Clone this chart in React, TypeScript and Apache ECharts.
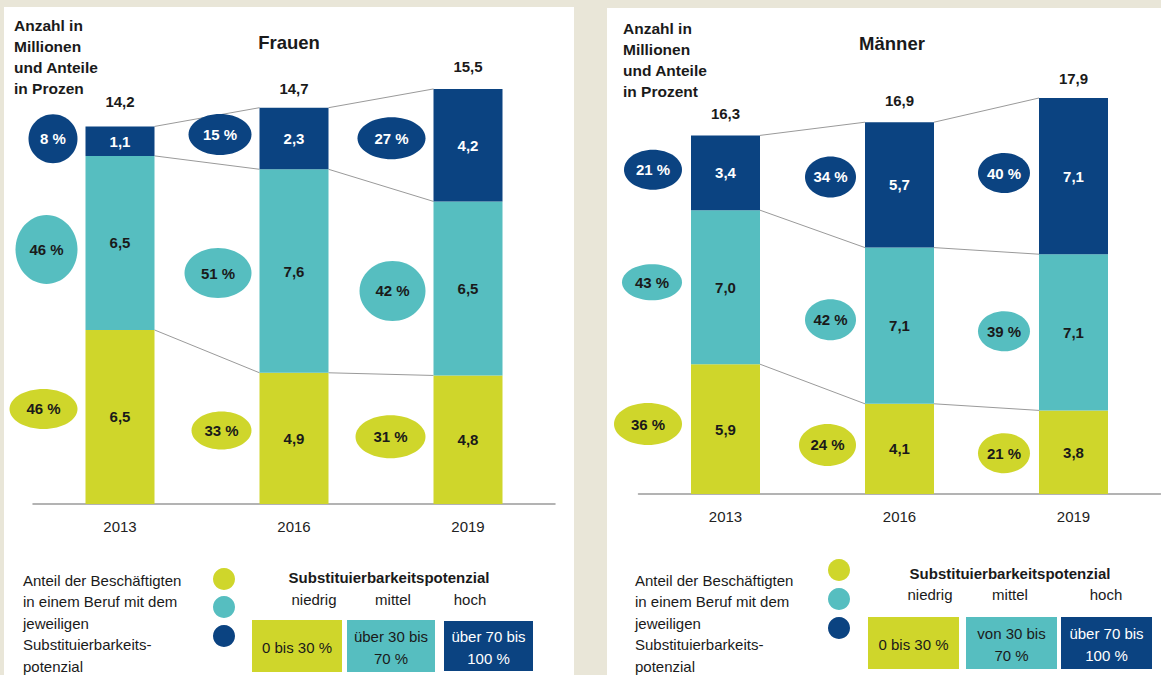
import React, { useEffect, useRef } from "react";
import * as echarts from "echarts";

// ---------- data ----------
const years = ["2013", "2016", "2019"];

const frauenNiedrig = [6.5, 4.9, 4.8];
const frauenMittel = [6.5, 7.6, 6.5];
const frauenHoch = [1.1, 2.3, 4.2];
const frauenGesamt = [14.2, 14.7, 15.5];
const frauenAnteilNiedrig = [46, 33, 31];
const frauenAnteilMittel = [46, 51, 42];
const frauenAnteilHoch = [8, 15, 27];

const maennerNiedrig = [5.9, 4.1, 3.8];
const maennerMittel = [7.0, 7.1, 7.1];
const maennerHoch = [3.4, 5.7, 7.1];
const maennerGesamt = [16.3, 16.9, 17.9];
const maennerAnteilNiedrig = [36, 24, 21];
const maennerAnteilMittel = [43, 42, 39];
const maennerAnteilHoch = [21, 34, 40];

const headerLinesFrauen = ["Anzahl in", "Millionen", "und Anteile", "in Prozen"];
const headerLinesMaenner = ["Anzahl in", "Millionen", "und Anteile", "in Prozent"];
const legendTextLines = [
  "Anteil der Beschäftigten",
  "in einem Beruf mit dem",
  "jeweiligen",
  "Substituierbarkeits-",
  "potenzial",
];
const legendTitle = "Substituierbarkeitspotenzial";
const levelNames = ["niedrig", "mittel", "hoch"];
const rangeLinesFrauen = [["0 bis 30 %"], ["über 30 bis", "70 %"], ["über 70 bis", "100 %"]];
const rangeLinesMaenner = [["0 bis 30 %"], ["von 30 bis", "70 %"], ["über 70 bis", "100 %"]];

// ---------- styles ----------
const LIME = "#cfd62b";
const TEAL = "#56bec0";
const NAVY = "#0b4381";
const BEIGE = "#e9e6d8";
const DARK = "#1a1a1a";
const COLORS = [LIME, TEAL, NAVY];
const BAR_W = 69;

// ellipse styles per [year][level] = [rx, ry, dy]
const ELL_F = [
  [[34, 20, -8], [31, 34.5, 6.5], [24.5, 24.5, -2.5]],
  [[30, 19, -8], [33.5, 25, 2], [31.5, 20.5, -4]],
  [[35, 21.5, -3], [33, 30, 2.5], [34, 21, -7]],
];
const ELL_M = [
  [[34, 21, -5], [30, 18, -5], [29, 20, -3]],
  [[28.5, 21, -4], [25.5, 20.5, -6], [25.5, 20.5, -8]],
  [[26, 20, 1], [26, 20, -1], [26, 20, -3]],
];

function detectNarrow(): boolean {
  try {
    const c = document.createElement("canvas").getContext("2d");
    if (!c) return false;
    const s = "Substituierbarkeitspotenzial";
    c.font = "bold 40px monospace";
    const w1 = c.measureText(s).width;
    c.font = "bold 40px 'Liberation Sans Narrow', monospace";
    const w2 = c.measureText(s).width;
    return Math.abs(w1 - w2) > 1;
  } catch (e) {
    return false;
  }
}

const fmt = (v: number) => v.toFixed(1).replace(".", ",");

export default function App() {
  const ref = useRef<HTMLDivElement>(null);

  useEffect(() => {
    document.body.style.margin = "0";
    if (!ref.current) return;
    const narrow = detectNarrow();
    const FF = narrow
      ? "'Liberation Sans Narrow', 'Liberation Sans', Arial, sans-serif"
      : "'Liberation Sans', Arial, sans-serif";
    const TF = "'Liberation Sans', Arial, sans-serif";
    const fs = (px: number) => (narrow ? Math.round((px / 0.82) * 10) / 10 : px);

    const chart = echarts.init(ref.current, undefined, { renderer: "svg" });

    const panels = [
      {
        levels: [frauenNiedrig, frauenMittel, frauenHoch],
        gesamt: frauenGesamt,
        anteile: [frauenAnteilNiedrig, frauenAnteilMittel, frauenAnteilHoch],
        ell: ELL_F,
        gap: 8,
      },
      {
        levels: [maennerNiedrig, maennerMittel, maennerHoch],
        gesamt: maennerGesamt,
        anteile: [maennerAnteilNiedrig, maennerAnteilMittel, maennerAnteilHoch],
        ell: ELL_M,
        gap: 9,
      },
    ];

    const series: any[] = [];
    panels.forEach((p, g) => {
      p.levels.forEach((arr, k) => {
        series.push({
          type: "bar",
          xAxisIndex: g,
          yAxisIndex: g,
          stack: "s" + g,
          barWidth: BAR_W,
          data: arr,
          silent: true,
          itemStyle: { color: COLORS[k] },
          label: {
            show: true,
            position: "inside",
            formatter: (pp: any) => fmt(pp.value),
            color: k === 2 ? "#ffffff" : DARK,
            fontFamily: FF,
            fontWeight: "bold",
            fontSize: fs(15),
          },
        });
      });
      // totals
      series.push({
        type: "custom",
        xAxisIndex: g,
        yAxisIndex: g,
        silent: true,
        z: 5,
        data: p.gesamt.map((v, i) => [i, v]),
        encode: { x: 0, y: 1 },
        renderItem: (params: any, api: any) => {
          const i = params.dataIndex;
          const pt = api.coord([i, p.gesamt[i]]);
          return {
            type: "text",
            style: {
              text: fmt(p.gesamt[i]),
              x: pt[0],
              y: pt[1] - 22,
              fill: DARK,
              fontFamily: FF,
              fontWeight: "bold",
              fontSize: fs(15),
              align: "center",
              verticalAlign: "middle",
              textAlign: "center",
              textVerticalAlign: "middle",
            },
          };
        },
      });
      // connectors
      series.push({
        type: "custom",
        xAxisIndex: g,
        yAxisIndex: g,
        silent: true,
        z: 1,
        data: [
          [0, 0],
          [1, 0],
        ],
        encode: { x: 0, y: 1 },
        renderItem: (params: any, api: any) => {
          const i = params.dataIndex;
          const half = BAR_W / 2;
          const children: any[] = [];
          let c0 = 0;
          let c1 = 0;
          for (let k = 0; k < 3; k++) {
            c0 += p.levels[k][i];
            c1 += p.levels[k][i + 1];
            const a = api.coord([i, c0]);
            const b = api.coord([i + 1, c1]);
            children.push({
              type: "line",
              shape: { x1: a[0] + half, y1: a[1], x2: b[0] - half, y2: b[1] },
              style: { stroke: "#9a9a9a", lineWidth: 1 },
            });
          }
          return { type: "group", children };
        },
      });
      // ellipses with shares
      const ellData: number[][] = [];
      for (let i = 0; i < 3; i++) {
        let below = 0;
        for (let k = 0; k < 3; k++) {
          const v = p.levels[k][i];
          ellData.push([i, below + v / 2, k]);
          below += v;
        }
      }
      series.push({
        type: "custom",
        xAxisIndex: g,
        yAxisIndex: g,
        silent: true,
        z: 6,
        data: ellData,
        encode: { x: 0, y: 1 },
        renderItem: (params: any, api: any) => {
          const d = ellData[params.dataIndex];
          const i = d[0];
          const k = d[2];
          const pt = api.coord([i, d[1]]);
          const [rx, ry, dy] = p.ell[i][k];
          const cx = pt[0] - BAR_W / 2 - p.gap - rx;
          const cy = pt[1] + dy;
          return {
            type: "group",
            children: [
              { type: "ellipse", shape: { cx, cy, rx, ry }, style: { fill: COLORS[k] } },
              {
                type: "text",
                style: {
                  text: p.anteile[k][i] + " %",
                  x: cx,
                  y: cy,
                  fill: k === 2 ? "#ffffff" : DARK,
                  fontFamily: FF,
                  fontWeight: "bold",
                  fontSize: fs(15),
                  align: "center",
                  verticalAlign: "middle",
                  textAlign: "center",
                  textVerticalAlign: "middle",
                },
              },
            ],
          };
        },
      });
    });

    const txt = (
      text: string,
      x: number,
      y: number,
      o: { size?: number; bold?: boolean; fill?: string; align?: string; family?: string } = {}
    ) => ({
      type: "text",
      x,
      y,
      z: 5,
      silent: true,
      style: {
        text,
        fill: o.fill || DARK,
        fontFamily: o.family || FF,
        fontWeight: o.bold ? "bold" : "normal",
        fontSize: o.size || fs(15),
        align: o.align || "left",
        verticalAlign: "middle",
        textAlign: o.align || "left",
        textVerticalAlign: "middle",
      },
    });

    const graphics: any[] = [
      { type: "rect", z: -10, silent: true, shape: { x: 0, y: 0, width: 1161, height: 675 }, style: { fill: BEIGE } },
      { type: "rect", z: -9, silent: true, shape: { x: 4, y: 7, width: 570, height: 668 }, style: { fill: "#ffffff" } },
      { type: "rect", z: -9, silent: true, shape: { x: 607, y: 8, width: 554, height: 667 }, style: { fill: "#ffffff" } },
    ];

    headerLinesFrauen.forEach((l, i) => graphics.push(txt(l, 14, 25 + 21 * i, { bold: true, size: fs(15.5) })));
    headerLinesMaenner.forEach((l, i) => graphics.push(txt(l, 623, 28 + 21 * i, { bold: true, size: fs(15.5) })));
    graphics.push(txt("Frauen", 289, 42, { bold: true, size: 18.5, align: "center", family: TF }));
    graphics.push(txt("Männer", 892, 43, { bold: true, size: 18.5, align: "center", family: TF }));

    // legends
    const legends = [
      {
        tx: 23, ty: 580, tdy: 21.5,
        cx: 224, cys: [579, 607, 636],
        titleX: 389, titleY: 577,
        namesX: [314, 393, 470], namesY: 599,
        boxes: [[252, 620, 90, 52], [347, 620, 88, 52], [444, 621, 89, 50]],
        ranges: rangeLinesFrauen,
      },
      {
        tx: 635, ty: 580, tdy: 21.5,
        cx: 839, cys: [570, 599, 628],
        titleX: 1010, titleY: 573,
        namesX: [930, 1010, 1106], namesY: 594,
        boxes: [[868, 617, 91, 52], [966, 617, 91, 52], [1061, 617, 91, 52]],
        ranges: rangeLinesMaenner,
      },
    ];
    legends.forEach((L) => {
      legendTextLines.forEach((l, i) => graphics.push(txt(l, L.tx, L.ty + L.tdy * i)));
      L.cys.forEach((cy, k) =>
        graphics.push({ type: "circle", z: 5, silent: true, shape: { cx: L.cx, cy, r: 11 }, style: { fill: COLORS[k] } })
      );
      graphics.push(txt(legendTitle, L.titleX, L.titleY, { bold: true, align: "center" }));
      levelNames.forEach((n, k) => graphics.push(txt(n, L.namesX[k], L.namesY, { align: "center" })));
      L.boxes.forEach((b, k) => {
        graphics.push({
          type: "rect",
          z: 4,
          silent: true,
          shape: { x: b[0], y: b[1], width: b[2], height: b[3] },
          style: { fill: COLORS[k] },
        });
        const lines = L.ranges[k];
        const cxb = b[0] + b[2] / 2;
        const cyb = b[1] + b[3] / 2 + 1;
        lines.forEach((l, j) => {
          const y = lines.length === 1 ? cyb : cyb - 11 + 22 * j;
          graphics.push(txt(l, cxb, y, { align: "center", fill: k === 2 ? "#ffffff" : DARK }));
        });
      });
    });

    const xAxisBase = (gi: number) => ({
      type: "category",
      gridIndex: gi,
      data: years,
      boundaryGap: true,
      axisTick: { show: false },
      axisLine: { show: true, lineStyle: { color: "#9a9a9a", width: 1.5 } },
      axisLabel: { color: "#222", fontFamily: FF, fontSize: fs(15), margin: 15 },
      splitLine: { show: false },
    });
    const yAxisBase = (gi: number) => ({
      type: "value",
      gridIndex: gi,
      min: 0,
      max: 18,
      show: false,
      splitLine: { show: false },
    });

    chart.setOption({
      animation: false,
      grid: [
        { left: 33, top: 22, width: 522, height: 482, containLabel: false },
        { left: 638.5, top: 98, width: 522, height: 396, containLabel: false },
      ],
      xAxis: [xAxisBase(0), xAxisBase(1)],
      yAxis: [yAxisBase(0), yAxisBase(1)],
      series,
      graphic: { elements: graphics },
    });

    return () => chart.dispose();
  }, []);

  return <div ref={ref} style={{ width: 1161, height: 675 }} />;
}
